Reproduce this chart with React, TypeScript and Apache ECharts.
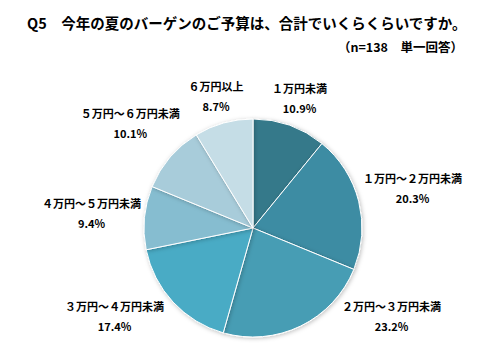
import React, { useEffect, useRef } from "react";
import * as echarts from "echarts";

const categories = ["１万円未満", "１万円～２万円未満", "２万円～３万円未満", "３万円～４万円未満", "４万円～５万円未満", "５万円～６万円未満", "６万円以上"];
const values = [10.9, 20.3, 23.2, 17.4, 9.4, 10.1, 8.7];
const colors = ["#34798A", "#3C8CA3", "#469DB4", "#4AABC5", "#86BDD0", "#A8CCDA", "#C5DDE6"];
const titleText = "Q5　今年の夏のバーゲンのご予算は、合計でいくらくらいですか。";
const subText = "（n=138　単一回答）";

const CX = 245;
const CY = 220;
const R = 109;
const GAP = 3;
const MAX_CY = 308;

function clearDist(px: number, py: number, w: number, h: number) {
  const x0 = px - w / 2, x1 = px + w / 2, y0 = py - h / 2, y1 = py + h / 2;
  const qx = Math.max(x0, Math.min(0, x1));
  const qy = Math.max(y0, Math.min(0, y1));
  return Math.hypot(qx, qy);
}

export default function App() {
  const ref = useRef<HTMLDivElement>(null);
  useEffect(() => {
    const chart = echarts.init(ref.current!, null, { renderer: "svg" });
    const font = "'Noto Sans CJK JP', sans-serif";
    const total = values.reduce((a, b) => a + b, 0);
    const mids: number[] = [];
    let cum = 0;
    values.forEach((v) => {
      mids.push(((cum + v / 2) / total) * Math.PI * 2);
      cum += v;
    });
    chart.setOption({
      animation: false,
      backgroundColor: "#ffffff",
      title: [
        { text: titleText, left: 19, top: 7, padding: 0, textStyle: { fontFamily: font, fontSize: 14.5, fontWeight: "bold", color: "#000" } },
        { text: subText, right: 29, top: 32, padding: 0, textStyle: { fontFamily: font, fontSize: 12.5, fontWeight: "bold", color: "#000" } },
      ],
      series: [
        {
          type: "pie",
          center: [CX, CY],
          radius: R,
          startAngle: 90,
          clockwise: true,
          avoidLabelOverlap: false,
          data: categories.map((c, i) => ({ name: c, value: values[i], itemStyle: { color: colors[i] } })),
          itemStyle: { borderColor: "#ffffff", borderWidth: 1, shadowBlur: 4, shadowColor: "rgba(0,0,0,0.25)", shadowOffsetX: 1, shadowOffsetY: 1 },
          label: {
            show: true,
            position: "outside",
            formatter: (p: any) => `{a|${p.name}}\n{b|${p.value.toFixed(1)}%}`,
            rich: {
              a: { fontFamily: font, fontSize: 11, fontWeight: "bold", color: "#000", lineHeight: 20, align: "center" },
              b: { fontFamily: font, fontSize: 11, fontWeight: "bold", color: "#000", lineHeight: 20, align: "center" },
            },
          },
          labelLine: { show: false },
          labelLayout: (params: any) => {
            const i = params.dataIndex;
            const w = params.labelRect.width;
            const h = 40;
            const ux = Math.sin(mids[i]);
            const uy = -Math.cos(mids[i]);
            let lo = 0, hi = 400;
            for (let k = 0; k < 40; k++) {
              const d = (lo + hi) / 2;
              if (clearDist(d * ux, d * uy, w, h) < R + GAP) lo = d; else hi = d;
            }
            let px = hi * ux;
            let py = hi * uy;
            if (CY + py > MAX_CY) {
              py = MAX_CY - CY;
              const side = px >= 0 ? 1 : -1;
              let a = 0, b = 400;
              for (let k = 0; k < 40; k++) {
                const m = (a + b) / 2;
                if (clearDist(side * m, py, w, h) < R + GAP) a = m; else b = m;
              }
              px = side * b;
            }
            return { x: CX + px, y: CY + py, align: "center", verticalAlign: "middle" };
          },
        },
      ],
    });
    return () => chart.dispose();
  }, []);
  return <div ref={ref} style={{ width: 484, height: 337 }} />;
}
